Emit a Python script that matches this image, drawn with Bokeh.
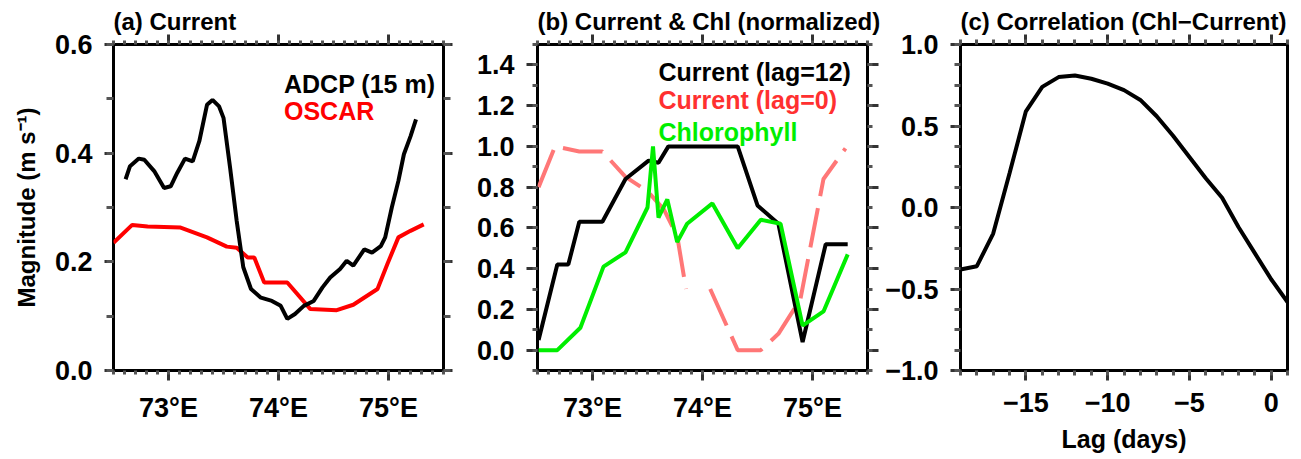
from bokeh.plotting import figure
from bokeh.models import Range1d, FixedTicker, LinearAxis, Label
from bokeh.layouts import row
from bokeh.embed import file_html
from bokeh.resources import INLINE
import numpy as np

# ---------------- data ----------------
# (a) Current magnitude along track
adcp_lon = [72.61, 72.65, 72.73, 72.78, 72.87, 72.96, 73.02, 73.08, 73.15, 73.22,
            73.28, 73.35, 73.40, 73.46, 73.50, 73.56, 73.62, 73.68, 73.75, 73.84,
            73.94, 74.02, 74.08, 74.15, 74.23, 74.32, 74.40, 74.47, 74.56, 74.62,
            74.68, 74.78, 74.85, 74.93, 74.97, 75.03, 75.09, 75.14, 75.20, 75.25]
adcp_mag = [0.352, 0.376, 0.390, 0.388, 0.367, 0.336, 0.339, 0.364, 0.390, 0.385,
            0.422, 0.489, 0.498, 0.486, 0.465, 0.373, 0.275, 0.190, 0.150, 0.134,
            0.128, 0.119, 0.095, 0.104, 0.119, 0.128, 0.153, 0.171, 0.187, 0.202,
            0.193, 0.223, 0.217, 0.229, 0.245, 0.300, 0.349, 0.398, 0.431, 0.462]
oscar_lon = [72.50, 72.67, 72.81, 73.11, 73.35, 73.53, 73.62, 73.72, 73.78, 73.87,
             74.08, 74.29, 74.53, 74.68, 74.90, 74.99, 75.09, 75.20, 75.32]
oscar_mag = [0.235, 0.268, 0.265, 0.263, 0.245, 0.228, 0.226, 0.208, 0.208, 0.162,
             0.162, 0.113, 0.111, 0.121, 0.150, 0.196, 0.245, 0.257, 0.269]

# (b) normalized current & chlorophyll
lag12_lon = [72.51, 72.68, 72.78, 72.88, 73.09, 73.30, 73.51, 73.60, 73.69, 74.32,
             74.50, 74.69, 74.91, 75.12, 75.32]
lag12_val = [0.05, 0.42, 0.42, 0.63, 0.63, 0.84, 0.93, 0.92, 1.00, 1.00,
             0.71, 0.62, 0.04, 0.52, 0.52]
lag0_lon = [72.51, 72.66, 72.88, 73.09, 73.30, 73.50, 73.65, 73.77, 73.85, np.nan,
            74.07, 74.32, 74.53, 74.69, 74.89, 75.10, 75.30]
lag0_val = [0.80, 1.00, 0.975, 0.975, 0.85, 0.78, 0.69, 0.56, 0.30, np.nan,
            0.30, 0.00, 0.00, 0.08, 0.25, 0.84, 0.99]
chl_lon = [72.51, 72.68, 72.89, 73.10, 73.30, 73.50, 73.55, 73.60, 73.68, 73.77,
           73.86, 74.09, 74.32, 74.53, 74.71, 74.91, 75.10, 75.32]
chl_val = [0.00, 0.00, 0.11, 0.41, 0.48, 0.70, 1.00, 0.65, 0.74, 0.53,
           0.62, 0.72, 0.50, 0.64, 0.62, 0.12, 0.19, 0.47]

# (c) lag correlation
lag_days = [-19, -18, -17, -16, -15, -14, -13, -12, -11, -10, -9, -8, -7, -6, -5,
            -4, -3, -2, -1, 0, 1]
corr = [-0.38, -0.36, -0.16, 0.21, 0.59, 0.74, 0.80, 0.81, 0.79, 0.76, 0.72,
        0.66, 0.56, 0.44, 0.31, 0.18, 0.06, -0.12, -0.28, -0.44, -0.58]

# tick definitions
lon_ticks = [73, 74, 75]
lon_labels = ["73°E", "74°E", "75°E"]
a_yticks = [0.0, 0.2, 0.4, 0.6]
b_yticks = [0.0, 0.2, 0.4, 0.6, 0.8, 1.0, 1.2, 1.4]
c_yticks = [-1.0, -0.5, 0.0, 0.5, 1.0]
c_xticks = [-15, -10, -5, 0]

FONT = "Liberation Sans"


def fmt(v, nd=1):
    s = f"{abs(v):.{nd}f}"
    return ("\u2212" + s) if v < 0 else s


def style_axis(ax, ticker, overrides=None, show_labels=True, major_out=10, minor_out=5):
    ax.ticker = ticker
    ax.axis_line_color = None
    ax.major_tick_in = 0
    ax.minor_tick_in = 0
    ax.major_tick_out = major_out
    ax.minor_tick_out = minor_out
    ax.major_tick_line_width = 3
    ax.minor_tick_line_width = 3
    ax.major_tick_line_color = "#333333"
    ax.minor_tick_line_color = "#555555"
    if show_labels:
        ax.major_label_text_font = FONT
        ax.major_label_text_font_style = "bold"
        ax.major_label_text_font_size = "27px"
        ax.major_label_text_color = "black"
        ax.major_label_standoff = 12
        if overrides:
            ax.major_label_overrides = overrides
    else:
        ax.major_label_text_font_size = "1px"
        ax.major_label_text_alpha = 0
        ax.major_label_standoff = 0


def make_fig(xr, yr, left, right, fw, title):
    p = figure(frame_width=fw, frame_height=326, x_range=xr, y_range=yr,
               min_border_left=left, min_border_right=right,
               min_border_top=44, min_border_bottom=89,
               output_backend="svg", toolbar_location=None,
               background_fill_color="white", border_fill_color="white")
    p.grid.visible = False
    p.outline_line_color = "black"
    p.outline_line_width = 3
    p.outline_line_alpha = 1
    p.title.text = title
    p.title.align = "left"
    p.title.offset = 0
    p.title.standoff = 0
    p.title.text_font = FONT
    p.title.text_font_style = "bold"
    p.title.text_font_size = "24px"
    p.title.text_color = "black"
    return p


def add_text(p, x, y, text, color):
    p.add_layout(Label(x=x, y=y, x_units="data", y_units="data", text=text,
                       text_font=FONT, text_font_style="bold", text_font_size="25px",
                       text_color=color, text_baseline="alphabetic", text_align="left"))


lon_minor = [round(72.5 + 0.1 * i, 2) for i in range(31)]
lon_over = {t: l for t, l in zip(lon_ticks, lon_labels)}

# ---------------- panel (a) ----------------
pa = make_fig(Range1d(72.5, 75.5), Range1d(0, 0.6), 113, 20, 330, "(a) Current")
pa.line(oscar_lon, oscar_mag, line_color="#ff0000", line_width=4)
pa.line(adcp_lon, adcp_mag, line_color="black", line_width=4)
a_xt = FixedTicker(ticks=lon_ticks, minor_ticks=lon_minor)
a_yt = FixedTicker(ticks=a_yticks, minor_ticks=[round(0.1 * i, 2) for i in range(7)])
style_axis(pa.xaxis[0], a_xt, lon_over, True, 10, 4)
style_axis(pa.yaxis[0], a_yt, {t: fmt(t) for t in a_yticks}, True, 9, 7)
pa.yaxis[0].axis_label = "Magnitude (m s\u207b\u00b9)"
pa.yaxis[0].axis_label_text_font = FONT
pa.yaxis[0].axis_label_text_font_style = "bold"
pa.yaxis[0].axis_label_text_font_size = "24px"
pa.yaxis[0].axis_label_text_color = "black"
pa.yaxis[0].axis_label_standoff = 12
ta = LinearAxis(); style_axis(ta, a_xt, None, False, 10, 4); pa.add_layout(ta, "above")
ra = LinearAxis(); style_axis(ra, a_yt, None, False, 9, 7); pa.add_layout(ra, "right")
add_text(pa, 74.05, 0.528, "ADCP (15 m)", "black")
add_text(pa, 74.05, 0.477, "OSCAR", "#ff0000")

# ---------------- panel (b) ----------------
pb = make_fig(Range1d(72.5, 75.5), Range1d(-0.1, 1.5), 74, 14, 330,
              "(b) Current & Chl (normalized)")
pb.line(lag0_lon, lag0_val, line_color="#ff7777", line_width=4, line_dash="40 12")
pb.line(lag12_lon, lag12_val, line_color="black", line_width=4)
pb.line(chl_lon, chl_val, line_color="#00ee00", line_width=4)
b_xt = FixedTicker(ticks=lon_ticks, minor_ticks=lon_minor)
b_yt = FixedTicker(ticks=b_yticks, minor_ticks=[round(-0.1 + 0.1 * i, 2) for i in range(17)])
style_axis(pb.xaxis[0], b_xt, lon_over, True, 10, 4)
style_axis(pb.yaxis[0], b_yt, {t: fmt(t) for t in b_yticks}, True, 11, 5)
tb = LinearAxis(); style_axis(tb, b_xt, None, False, 10, 4); pb.add_layout(tb, "above")
rb = LinearAxis(); style_axis(rb, b_yt, None, False, 11, 5); pb.add_layout(rb, "right")
add_text(pb, 73.6, 1.367, "Current (lag=12)", "black")
add_text(pb, 73.6, 1.23, "Current (lag=0)", "#ff3030")
add_text(pb, 73.6, 1.072, "Chlorophyll", "#00ee00")

# ---------------- panel (c) ----------------
pc = make_fig(Range1d(-19, 1), Range1d(-1, 1), 79, 13, 327,
              "(c) Correlation (Chl\u2212Current)")
pc.line(lag_days, corr, line_color="black", line_width=4)
c_xt = FixedTicker(ticks=c_xticks, minor_ticks=list(range(-19, 2)))
c_yt = FixedTicker(ticks=c_yticks, minor_ticks=[round(-1 + 0.125 * i, 3) for i in range(17)])
style_axis(pc.xaxis[0], c_xt, {t: fmt(t, 0) for t in c_xticks}, True, 10, 5)
style_axis(pc.yaxis[0], c_yt, {t: fmt(t) for t in c_yticks}, True, 10, 6)
pc.xaxis[0].axis_label = "Lag (days)"
pc.xaxis[0].axis_label_text_font = FONT
pc.xaxis[0].axis_label_text_font_style = "bold"
pc.xaxis[0].axis_label_text_font_size = "25px"
pc.xaxis[0].axis_label_text_color = "black"
pc.xaxis[0].axis_label_standoff = 10
tc = LinearAxis(); style_axis(tc, c_xt, None, False, 10, 5); pc.add_layout(tc, "above")

layout = row(pa, pb, pc)
open("out.html", "w").write(file_html(layout, INLINE))
